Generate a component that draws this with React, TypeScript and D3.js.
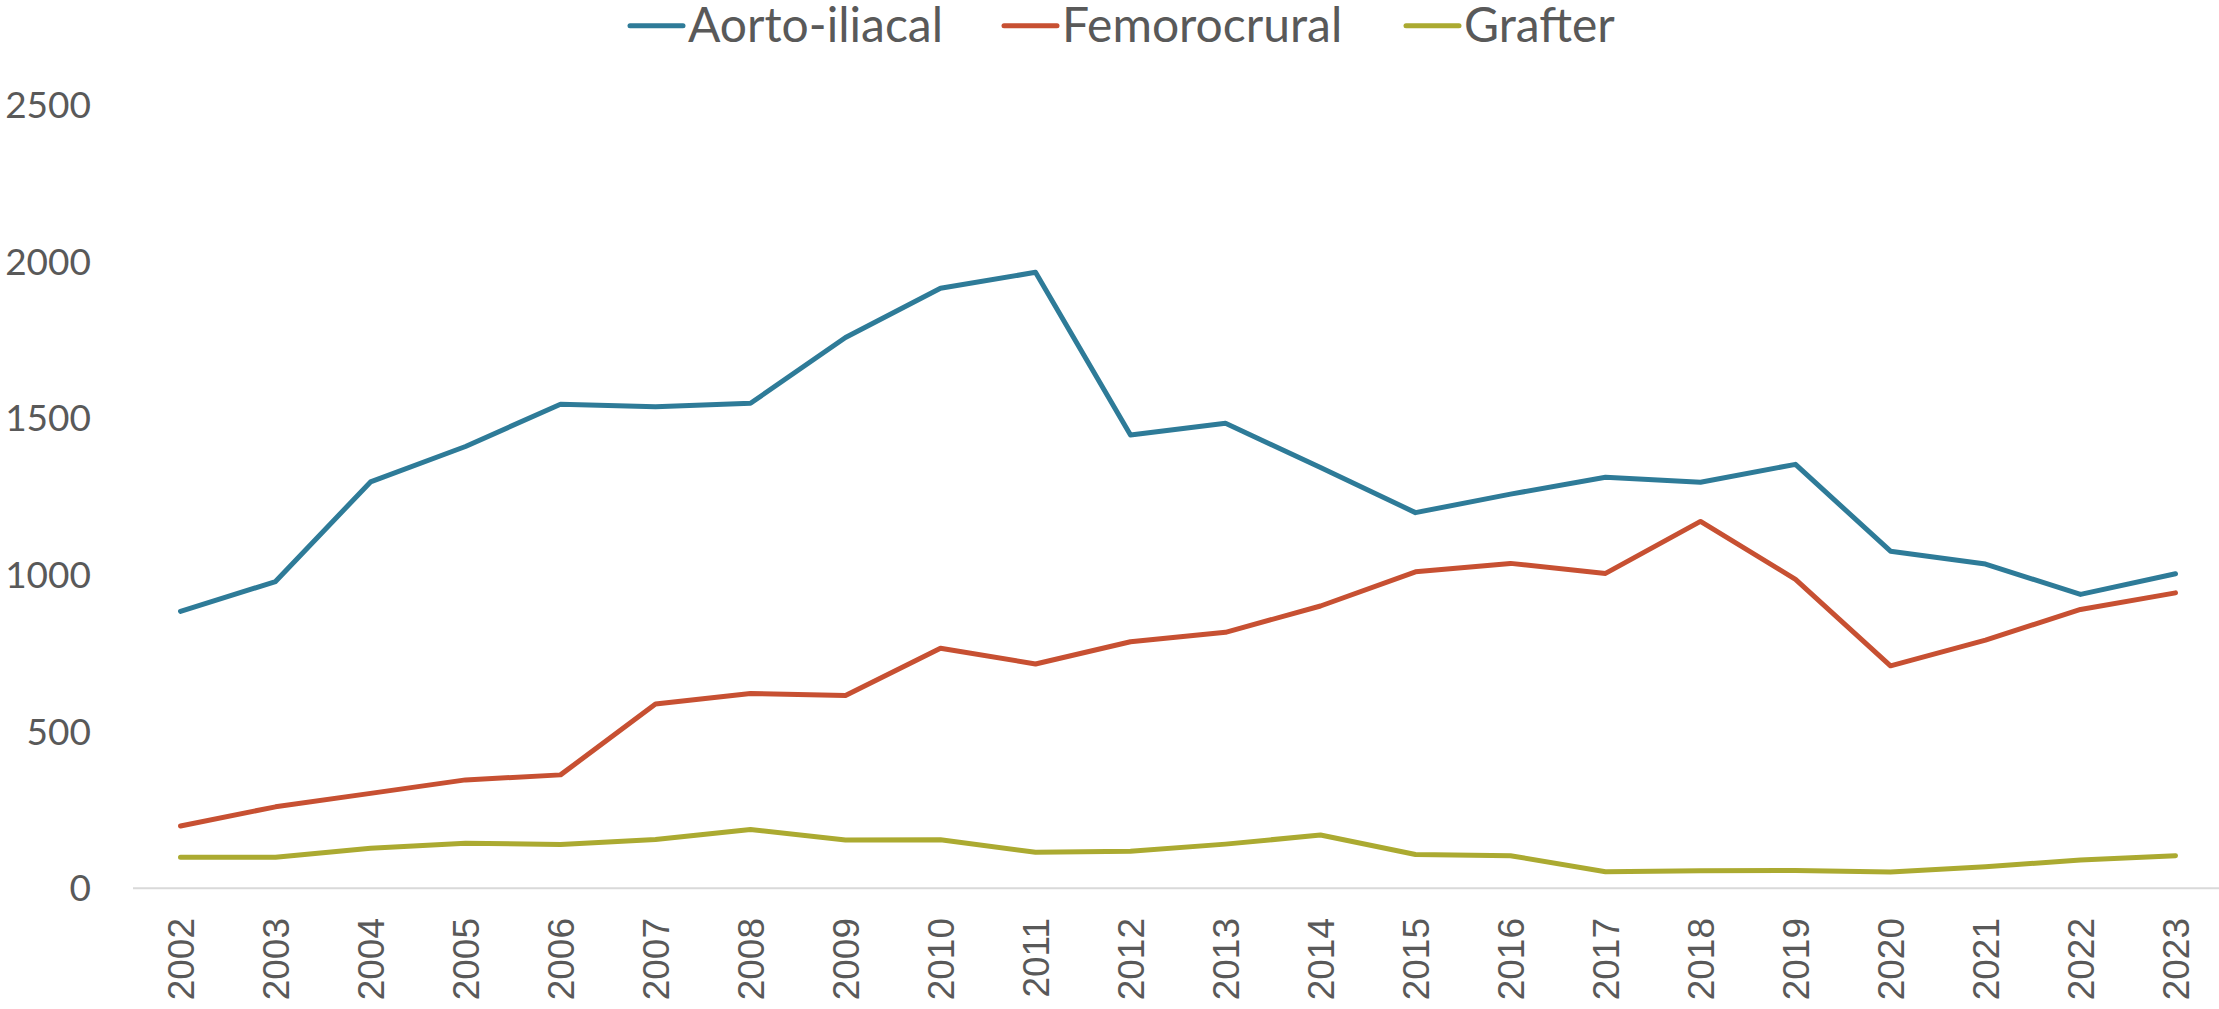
import { useEffect } from "react";
import * as d3 from "d3";

const YEARS = [
  "2002", "2003", "2004", "2005", "2006", "2007", "2008", "2009", "2010", "2011", "2012",
  "2013", "2014", "2015", "2016", "2017", "2018", "2019", "2020", "2021", "2022", "2023",
];

const AORTO = [
  884, 979, 1297, 1410, 1545, 1537, 1548, 1758, 1915, 1966, 1447,
  1484, 1343, 1199, 1258, 1312, 1296, 1353, 1076, 1035, 938, 1004,
];
const FEMORO = [
  199, 260, 303, 346, 362, 588, 622, 615, 766, 716, 787,
  817, 901, 1010, 1037, 1005, 1171, 986, 710, 792, 890, 943,
];
const GRAFTER = [
  99, 99, 128, 144, 140, 156, 188, 154, 155, 115, 118,
  141, 170, 108, 104, 53, 56, 57, 52, 69, 90, 104,
];

const Y_TICKS = [0, 500, 1000, 1500, 2000, 2500];

const SERIES = [
  { name: "Aorto-iliacal", values: AORTO, color: "#2e7b98" },
  { name: "Femorocrural", values: FEMORO, color: "#c75032" },
  { name: "Grafter", values: GRAFTER, color: "#abaa31" },
];

const W = 2219;
const H = 1009;
const TEXT = "#595959";

export default function App() {
  useEffect(() => {
    document.body.style.margin = "0";
  }, []);

  const x = d3.scalePoint<string>().domain(YEARS).range([133, 2223]).padding(0.5);
  const y = d3.scaleLinear().domain([0, 2500]).range([888.3, 105]);

  const line = d3
    .line<number>()
    .x((_, i) => x(YEARS[i]) ?? 0)
    .y((d) => y(d));

  // legend layout (positions of each entry's swatch start)
  const legendX = [628, 1002, 1404];

  return (
    <svg width={W} height={H} style={{ display: "block", background: "#fff" }}>
      {/* x axis line */}
      <line x1={133} x2={2223} y1={y(0)} y2={y(0)} stroke="#d9d9d9" strokeWidth={2} />

      {/* y tick labels */}
      {Y_TICKS.map((t) => (
        <text
          key={t}
          x={91}
          y={y(t)}
          dy="0.35em"
          textAnchor="end"
          fontFamily="Lato, 'Open Sans', sans-serif"
          fontSize={37}
          fill={TEXT}
        >
          {t}
        </text>
      ))}

      {/* x tick labels */}
      {YEARS.map((yr) => (
        <text
          key={yr}
          transform={`translate(${(x(yr) ?? 0) + 13},918) rotate(-90)`}
          textAnchor="end"
          fontFamily="'Liberation Sans', Arial, sans-serif"
          fontSize={37}
          fill={TEXT}
        >
          {yr}
        </text>
      ))}

      {/* series */}
      {SERIES.map((s) => (
        <path
          key={s.name}
          d={line(s.values) ?? ""}
          fill="none"
          stroke={s.color}
          strokeWidth={5}
          strokeLinejoin="round"
          strokeLinecap="round"
        />
      ))}

      {/* legend */}
      {SERIES.map((s, i) => (
        <g key={s.name} transform={`translate(${legendX[i]},0)`}>
          <line x1={2} x2={55} y1={25.7} y2={25.7} stroke={s.color} strokeWidth={5} strokeLinecap="round" />
          <text x={60} y={42} fontFamily="Lato, 'Open Sans', sans-serif" fontSize={48} fill={TEXT}>
            {s.name}
          </text>
        </g>
      ))}
    </svg>
  );
}
